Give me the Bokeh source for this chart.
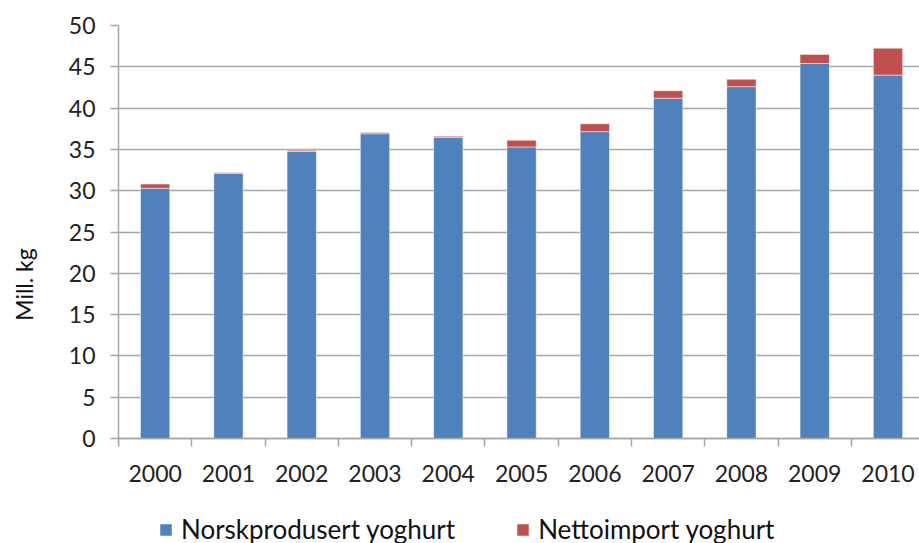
from bokeh.plotting import figure
from bokeh.models import Range1d, FixedTicker, Legend, LegendItem, ColumnDataSource
from bokeh.embed import file_html
from bokeh.resources import INLINE

years = ["2000", "2001", "2002", "2003", "2004", "2005", "2006", "2007", "2008", "2009", "2010"]
norskprodusert = [30.3, 32.1, 34.75, 36.9, 36.45, 35.3, 37.15, 41.2, 42.6, 45.4, 44.0]
nettoimport = [0.5, 0.1, 0.15, 0.15, 0.15, 0.8, 0.95, 0.9, 0.9, 1.1, 3.25]
y_ticks = [0, 5, 10, 15, 20, 25, 30, 35, 40, 45, 50]
series_labels = ["Norskprodusert yoghurt", "Nettoimport yoghurt"]

xs = list(range(len(years)))
source = ColumnDataSource(dict(x=xs, norsk=norskprodusert, netto=nettoimport))

FONT = "Lato"
BLUE = "#4F81BD"
RED = "#C0504D"
GRID = "#A6A6A6"

# frame runs to the bottom of the page; the x axis sits at y=0 inside it,
# leaving room below for the legend
p = figure(width=919, height=543, output_backend="svg", toolbar_location=None,
           x_range=Range1d(-0.5, 10.43), y_range=Range1d(-12.71, 50),
           min_border_left=118, min_border_right=0, min_border_top=25, min_border_bottom=0)
p.outline_line_color = None
p.background_fill_color = "white"
p.border_fill_color = "white"

r = p.vbar_stack(["norsk", "netto"], x="x", width=0.4, source=source,
                 color=[BLUE, RED], line_color="white", line_alpha=0.5, line_width=1)

p.xgrid.grid_line_color = None
p.ygrid.ticker = FixedTicker(ticks=y_ticks)
p.ygrid.grid_line_color = GRID
p.ygrid.grid_line_width = 1.5

# y axis
p.yaxis.ticker = FixedTicker(ticks=y_ticks)
p.yaxis.bounds = (-1, 50)
p.yaxis.axis_line_color = GRID
p.yaxis.axis_line_width = 1.5
p.yaxis.major_tick_line_color = GRID
p.yaxis.major_tick_line_width = 1.5
p.yaxis.major_tick_in = 0
p.yaxis.major_tick_out = 8
p.yaxis.minor_tick_line_color = None
p.yaxis.major_label_standoff = 15
p.yaxis.major_label_text_font = FONT
p.yaxis.major_label_text_font_size = "23px"
p.yaxis.major_label_text_color = "#222222"
p.yaxis.axis_label = "Mill. kg"
p.yaxis.axis_label_text_font = FONT
p.yaxis.axis_label_text_font_size = "23px"
p.yaxis.axis_label_text_font_style = "normal"
p.yaxis.axis_label_text_color = "#111111"
p.yaxis.axis_label_standoff = 28

# x axis at y=0: labels at centres, ticks at boundaries
p.xaxis.fixed_location = 0
p.xaxis.ticker = FixedTicker(ticks=xs, minor_ticks=[i - 0.5 for i in range(len(years) + 1)])
p.xaxis.major_label_overrides = {i: y for i, y in enumerate(years)}
p.xaxis.axis_line_color = GRID
p.xaxis.axis_line_width = 1.5
p.xaxis.major_tick_line_color = None
p.xaxis.minor_tick_line_color = GRID
p.xaxis.minor_tick_line_width = 1.5
p.xaxis.minor_tick_in = 0
p.xaxis.minor_tick_out = 8
p.xaxis.major_tick_out = 8
p.xaxis.major_tick_in = 0
p.xaxis.major_label_standoff = 18
p.xaxis.major_label_text_font = FONT
p.xaxis.major_label_text_font_size = "23px"
p.xaxis.major_label_text_color = "#222222"

legend = Legend(items=[LegendItem(label=series_labels[0], renderers=[r[0]]),
                       LegendItem(label=series_labels[1], renderers=[r[1]])],
                orientation="horizontal", location=(40, -2),
                label_text_font=FONT, label_text_font_size="26px", label_text_color="#111111",
                glyph_width=15, glyph_height=15, spacing=60, padding=2, margin=0,
                label_standoff=8, border_line_color=None, background_fill_alpha=0)
p.add_layout(legend, "center")

open("out.html", "w").write(file_html(p, INLINE))
